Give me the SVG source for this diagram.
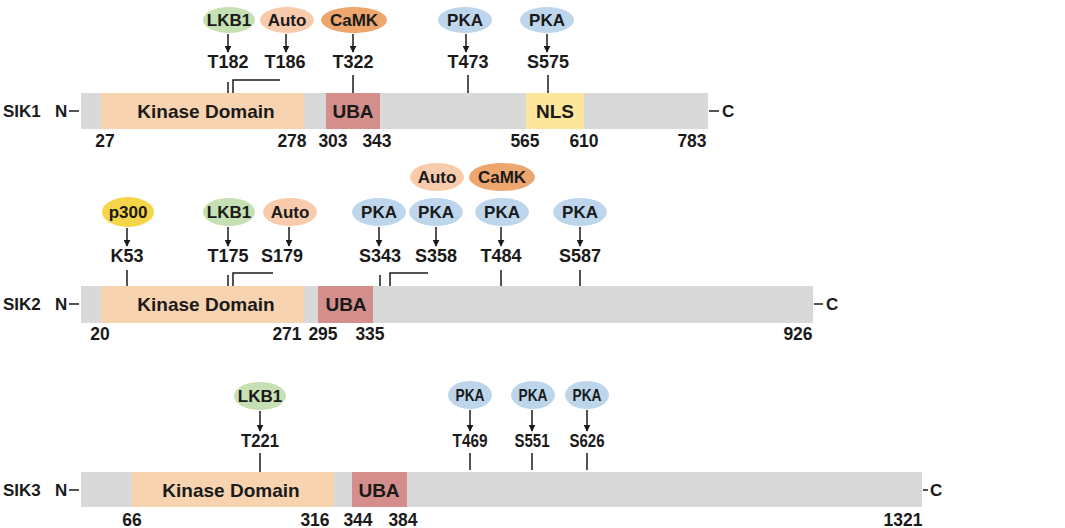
<svg xmlns="http://www.w3.org/2000/svg" width="1065" height="528" viewBox="0 0 1065 528">
<defs>
<marker id="ah" viewBox="0 0 10 10" refX="9" refY="5" markerWidth="7" markerHeight="7" markerUnits="userSpaceOnUse" orient="auto">
<path d="M0,0 L10,5 L0,10 z" fill="#1a1a1a"/>
</marker>
<style>
text{font-family:"Liberation Sans",Arial,sans-serif;font-weight:bold;font-size:17px;fill:#1a1a1a}
.m{text-anchor:middle}
.d{font-size:19px}
.s{font-size:18px}
.n{font-size:17.5px}
.bar{fill:#d9d9d9}
.kd{fill:#f8d3b0}
.uba{fill:#d48f8c}
.nls{fill:#fbe69b}
.lkb{fill:#c6e0b3}
.auto{fill:#f7cbab}
.camk{fill:#eda66e}
.pka{fill:#bdd6ec}
.p300{fill:#f7d54a}
.ln{stroke:#1a1a1a;stroke-width:1.5;fill:none}
.ar{stroke:#1a1a1a;stroke-width:1.5;fill:none;marker-end:url(#ah)}
</style>
</defs>

<!-- SIK1 -->
<g id="sik1">
<text x="3" y="117">SIK1</text>
<text x="55" y="117">N</text>
<line class="ln" x1="69" y1="111" x2="79" y2="111"/>
<rect class="bar" x="81" y="93" width="627" height="36"/>
<rect class="kd" x="101" y="93" width="203" height="36"/>
<rect class="uba" x="326" y="93" width="54" height="36"/>
<rect class="nls" x="526" y="93" width="58" height="36"/>
<text class="m d" x="206" y="118">Kinase Domain</text>
<text class="m d" x="353" y="118">UBA</text>
<text class="m d" x="555" y="118">NLS</text>
<line class="ln" x1="709" y1="111" x2="719" y2="111"/>
<text x="722" y="117">C</text>
<text class="m n" x="105" y="147">27</text>
<text class="m n" x="292" y="147">278</text>
<text class="m n" x="333" y="147">303</text>
<text class="m n" x="377" y="147">343</text>
<text class="m n" x="525" y="147">565</text>
<text class="m n" x="584" y="147">610</text>
<text class="m n" x="692" y="147">783</text>
</g>
<g id="sik1-kinases">
<ellipse class="lkb" cx="229" cy="20" rx="26" ry="13"/><text class="m" x="229" y="26">LKB1</text>
<ellipse class="auto" cx="287" cy="20" rx="27" ry="13"/><text class="m" x="287" y="26">Auto</text>
<ellipse class="camk" cx="354" cy="20" rx="33" ry="13"/><text class="m" x="354" y="26">CaMK</text>
<ellipse class="pka" cx="465" cy="20" rx="27" ry="13"/><text class="m" x="465" y="26">PKA</text>
<ellipse class="pka" cx="547" cy="20" rx="27" ry="13"/><text class="m" x="547" y="26">PKA</text>
<text class="m s" x="228" y="68">T182</text>
<text class="m s" x="285" y="68">T186</text>
<text class="m s" x="353" y="68">T322</text>
<text class="m s" x="468" y="68">T473</text>
<text class="m s" x="548" y="68">S575</text>
</g>

<!-- SIK2 -->
<g id="sik2">
<text x="3" y="310">SIK2</text>
<text x="55" y="310">N</text>
<line class="ln" x1="69" y1="304" x2="79" y2="304"/>
<rect class="bar" x="81" y="286" width="732" height="37"/>
<rect class="kd" x="101" y="286" width="203" height="37"/>
<rect class="uba" x="318" y="286" width="55" height="37"/>
<text class="m d" x="206" y="311">Kinase Domain</text>
<text class="m d" x="346" y="311">UBA</text>
<line class="ln" x1="814" y1="304" x2="823" y2="304"/>
<text x="826" y="310">C</text>
<text class="m n" x="100" y="340">20</text>
<text class="m n" x="287" y="340">271</text>
<text class="m n" x="323" y="340">295</text>
<text class="m n" x="370" y="340">335</text>
<text class="m n" x="798" y="340">926</text>
</g>
<g id="sik2-kinases">
<ellipse class="p300" cx="128" cy="212" rx="26" ry="15"/><text class="m" x="128" y="218">p300</text>
<ellipse class="lkb" cx="229" cy="212" rx="26" ry="14"/><text class="m" x="229" y="218">LKB1</text>
<ellipse class="auto" cx="290" cy="212" rx="27" ry="14"/><text class="m" x="290" y="218">Auto</text>
<ellipse class="pka" cx="379" cy="212" rx="27" ry="14"/><text class="m" x="379" y="218">PKA</text>
<ellipse class="pka" cx="436" cy="212" rx="27" ry="14"/><text class="m" x="436" y="218">PKA</text>
<ellipse class="auto" cx="437" cy="177" rx="27" ry="14"/><text class="m" x="437" y="183">Auto</text>
<ellipse class="camk" cx="502" cy="177" rx="33" ry="14"/><text class="m" x="502" y="183">CaMK</text>
<ellipse class="pka" cx="502" cy="212" rx="27" ry="14"/><text class="m" x="502" y="218">PKA</text>
<ellipse class="pka" cx="580" cy="212" rx="27" ry="14"/><text class="m" x="580" y="218">PKA</text>
<text class="m s" x="127" y="262">K53</text>
<text class="m s" x="228" y="262">T175</text>
<text class="m s" x="282" y="262">S179</text>
<text class="m s" x="380" y="262">S343</text>
<text class="m s" x="436" y="262">S358</text>
<text class="m s" x="501" y="262">T484</text>
<text class="m s" x="580" y="262">S587</text>
</g>

<!-- SIK3 -->
<g id="sik3">
<text x="3" y="496">SIK3</text>
<text x="55" y="496">N</text>
<line class="ln" x1="69" y1="490" x2="79" y2="490"/>
<rect class="bar" x="81" y="472" width="841" height="35"/>
<rect class="kd" x="132" y="472" width="202" height="35"/>
<rect class="uba" x="352" y="472" width="55" height="35"/>
<text class="m d" x="231" y="497">Kinase Domain</text>
<text class="m d" x="379" y="497">UBA</text>
<line class="ln" x1="923" y1="490" x2="928" y2="490"/>
<text x="930" y="496">C</text>
<text class="m n" x="132" y="526">66</text>
<text class="m n" x="315" y="526">316</text>
<text class="m n" x="358" y="526">344</text>
<text class="m n" x="403" y="526">384</text>
<text class="m n" x="903" y="526">1321</text>
</g>
<g id="sik3-kinases">
<ellipse class="lkb" cx="260" cy="396" rx="26" ry="14"/><text class="m" x="260" y="402">LKB1</text>
<ellipse class="pka" cx="470" cy="395" rx="22" ry="14"/><text class="m" x="470" y="401" textLength="29" lengthAdjust="spacingAndGlyphs">PKA</text>
<ellipse class="pka" cx="533" cy="395" rx="22" ry="14"/><text class="m" x="533" y="401" textLength="29" lengthAdjust="spacingAndGlyphs">PKA</text>
<ellipse class="pka" cx="587" cy="395" rx="22" ry="14"/><text class="m" x="587" y="401" textLength="29" lengthAdjust="spacingAndGlyphs">PKA</text>
<text class="m s" x="260" y="447" textLength="38" lengthAdjust="spacingAndGlyphs">T221</text>
<text class="m s" x="470" y="447" textLength="35" lengthAdjust="spacingAndGlyphs">T469</text>
<text class="m s" x="532" y="447" textLength="35" lengthAdjust="spacingAndGlyphs">S551</text>
<text class="m s" x="587" y="447" textLength="35" lengthAdjust="spacingAndGlyphs">S626</text>
</g>

<g id="connectors">
<!-- SIK1 arrows -->
<line class="ar" x1="228" y1="34" x2="228" y2="52"/>
<line class="ar" x1="286" y1="34" x2="286" y2="52"/>
<line class="ar" x1="353" y1="34" x2="353" y2="52"/>
<line class="ar" x1="466" y1="34" x2="466" y2="52"/>
<line class="ar" x1="547" y1="34" x2="547" y2="52"/>
<!-- SIK1 site lines -->
<line class="ln" x1="228" y1="82" x2="228" y2="93"/>
<polyline class="ln" points="233,93 233,80 280,80"/>
<line class="ln" x1="353" y1="75" x2="353" y2="93"/>
<line class="ln" x1="468" y1="75" x2="468" y2="93"/>
<line class="ln" x1="548" y1="75" x2="548" y2="93"/>
<!-- SIK2 arrows -->
<line class="ar" x1="127" y1="228" x2="127" y2="246"/>
<line class="ar" x1="228" y1="227" x2="228" y2="246"/>
<line class="ar" x1="289" y1="227" x2="289" y2="246"/>
<line class="ar" x1="379" y1="227" x2="379" y2="246"/>
<line class="ar" x1="436" y1="227" x2="436" y2="246"/>
<line class="ar" x1="501" y1="227" x2="501" y2="246"/>
<line class="ar" x1="580" y1="227" x2="580" y2="246"/>
<!-- SIK2 site lines -->
<line class="ln" x1="127" y1="270" x2="127" y2="286"/>
<line class="ln" x1="228" y1="275" x2="228" y2="286"/>
<polyline class="ln" points="233,286 233,273 273,273"/>
<line class="ln" x1="380" y1="275" x2="380" y2="286"/>
<polyline class="ln" points="390,286 390,273 428,273"/>
<line class="ln" x1="501" y1="270" x2="501" y2="286"/>
<line class="ln" x1="580" y1="270" x2="580" y2="286"/>
<!-- SIK3 arrows -->
<line class="ar" x1="260" y1="411" x2="260" y2="431"/>
<line class="ar" x1="470" y1="410" x2="470" y2="431"/>
<line class="ar" x1="532" y1="410" x2="532" y2="431"/>
<line class="ar" x1="587" y1="410" x2="587" y2="431"/>
<!-- SIK3 site lines -->
<line class="ln" x1="260" y1="453" x2="260" y2="472"/>
<line class="ln" x1="470" y1="453" x2="470" y2="470"/>
<line class="ln" x1="532" y1="453" x2="532" y2="470"/>
<line class="ln" x1="587" y1="453" x2="587" y2="470"/>
</g>
</svg>
